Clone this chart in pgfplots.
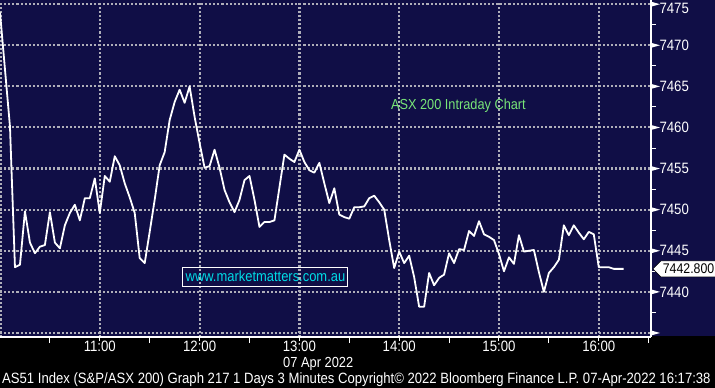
\documentclass[border=0pt]{standalone}
\usepackage{pgfplots}
\pgfplotsset{compat=1.18}
\usepackage{fontspec}
\setmainfont{Liberation Sans}[FakeStretch=0.88]
\usetikzlibrary{shapes.symbols}
\definecolor{navy}{RGB}{16,14,70}
\definecolor{gridc}{RGB}{175,175,185}
\definecolor{grn}{RGB}{120,230,120}
\definecolor{cyn}{RGB}{0,220,230}
\newcommand{\fs}[1]{\fontsize{#1}{#1}\selectfont}
\begin{document}
\begin{tikzpicture}[font=\fs{15bp}]
\fill[black] (0,-51bp) rectangle (715bp,337bp);
\fill[navy] (0,1bp) rectangle (715bp,337bp);
\foreach \yy in {3.0,44.1,85.2,126.3,167.4,208.5,249.6,290.7,331.8}{
  \foreach \xx in {0,4.1,...,648}{\fill[gridc] (\xx bp,\yy bp) rectangle ++(2.1bp,2.1bp);}
}
\foreach \xx in {0,98.8,198.6,298.4,398.2,498.0,597.8}{
  \foreach \yy in {0,4.1,...,333}{\fill[gridc] (\xx bp,\yy bp) rectangle ++(2.1bp,2.1bp);}
}
\begin{axis}[
  at={(0,0)}, anchor=south west,
  scale only axis, width=651bp, height=337bp,
  xmin=0, xmax=391.4, ymin=7434.51, ymax=7475.51,
  clip=false,
  axis x line*=bottom, axis y line*=right,
  axis line style={white, line width=1.2bp},
  xtick={60,120,...,360},
  xticklabels={11:00,12:00,13:00,14:00,15:00,16:00},
  minor xtick={30,90,...,390},
  ytick={7435,7440,...,7475},
  yticklabels={{},7440,7445,7450,7455,7460,7465,7470,{}},
  tick align=outside,
  major tick length=4bp, minor tick length=6bp,
  tick style={white, line width=1bp},
  ytick style={draw=none},
  ticklabel style={white, font=\fs{15bp}},
  /pgf/number format/assume math mode=true,
  /pgf/number format/1000 sep={},
  yticklabel style={anchor=west, xshift=1bp},
  xticklabel style={yshift=3bp},
]
\addplot[white, line width=1.8bp, line join=round, mark=none] coordinates {
(0,7474.0) (6,7460.1) (9,7443.0) (12,7443.3) (15,7449.8) (18,7446.0) (21,7444.7)
(24,7445.5) (27,7445.7) (30,7449.7) (33,7446.0) (36,7445.3) (39,7448.1) (42,7449.6)
(45,7450.6) (48,7448.7) (51,7451.4) (54,7451.4) (57,7453.8) (60,7449.6) (63,7454.1)
(66,7453.4) (69,7456.5) (72,7455.4) (75,7453.2) (78,7451.5) (81,7449.6) (84,7444.1)
(87,7443.5) (90,7447.3) (93,7451.2) (96,7455.4) (99,7457.0) (102,7460.9) (105,7463.1)
(108,7464.6) (111,7463.0) (114,7465.0) (117,7461.3) (120,7458.1) (123,7455.1)
(126,7455.3) (129,7457.3) (132,7455.1) (135,7452.4) (138,7450.9) (141,7449.7)
(144,7451.2) (147,7453.6) (150,7454.1) (153,7451.2) (156,7447.9) (159,7448.5)
(162,7448.5) (165,7448.7) (171,7456.7) (174,7456.2) (177,7455.8) (180,7457.3)
(183,7455.8) (186,7454.8) (189,7454.5) (192,7455.7) (195,7453.2) (198,7450.8)
(201,7452.6) (204,7449.4) (207,7449.1) (210,7448.9) (213,7450.3) (216,7450.3)
(219,7450.4) (222,7451.4) (225,7451.7) (228,7450.9) (231,7450.0) (234,7446.3)
(237,7442.9) (240,7444.9) (243,7443.5) (246,7444.4) (249,7441.8) (252,7438.2)
(255,7438.2) (258,7442.3) (261,7440.8) (264,7441.7) (267,7442.1) (270,7444.7)
(273,7443.5) (276,7445.2) (279,7445.1) (282,7447.4) (285,7446.8) (288,7448.6)
(291,7447.0) (294,7446.7) (297,7446.3) (300,7444.6) (303,7442.5) (306,7444.2)
(309,7443.4) (312,7446.9) (315,7444.9) (318,7445.0) (321,7445.1) (324,7442.4)
(327,7440.0) (330,7442.3) (333,7443.0) (336,7443.9) (339,7448.1) (342,7446.9)
(345,7448.1) (348,7447.2) (351,7446.4) (354,7447.3) (357,7447.0) (360,7443.0)
(363,7443.0) (366,7443.0) (369,7442.8) (375,7442.8)
};
\pgfplotsinvokeforeach{7435,7440,7445,7450,7455,7460,7465,7470,7475}{
  \fill[white] ([yshift=2.5bp]axis cs:391.4,#1) -- ([xshift=9bp]axis cs:391.4,#1) -- ([yshift=-2.5bp]axis cs:391.4,#1) -- cycle;
}
\pgfplotsinvokeforeach{7437.5,7442.5,7447.5,7452.5,7457.5,7462.5,7467.5,7472.5}{
  \draw[white, line width=1bp] (axis cs:391.4,#1) -- ([xshift=5bp]axis cs:391.4,#1);
}
\node[anchor=west, text=white] at ([xshift=5bp, yshift=-4.5bp]axis cs:391.4,7475) {7475};
\node[signal, signal to=west, fill=white, draw=black, line width=0.6bp,
  inner xsep=2bp, inner ysep=3bp, anchor=west, text=black, font=\fs{14bp}]
  at ([xshift=1.5bp]axis cs:391.4,7442.8) {7442.800};
\node[text=grn, inner sep=0, font=\fs{14.5bp}] at (axis cs:275.6,7462.6) {ASX 200 Intraday Chart};
\node[draw=white, line width=1bp, minimum width=165bp, minimum height=19bp,
  inner sep=0, text=cyn, font=\fs{14.7bp}] at (axis cs:159.6,7441.87) {www.marketmatters.com.au};
\end{axis}
\node[anchor=west, inner sep=0, text=white, font=\fs{14.6bp}] at (283bp,-27bp) {07 Apr 2022};
\node[anchor=west, inner sep=0, text=white, font=\fs{14.9bp}] at (2bp,-42.5bp) {AS51 Index (S\&P/ASX 200) Graph 217 1 Days 3 Minutes Copyright© 2022 Bloomberg Finance L.P. 07-Apr-2022 16:17:38};
\pgfresetboundingbox
\useasboundingbox (0,-51bp) rectangle (715bp,337bp);
\end{tikzpicture}
\end{document}
